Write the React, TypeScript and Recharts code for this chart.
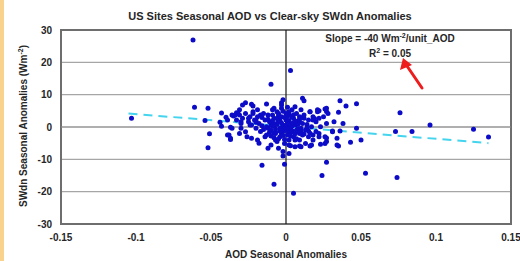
import React from 'react';
import { ScatterChart, Scatter, XAxis, YAxis, CartesianGrid, ReferenceLine, ReferenceArea } from 'recharts';

const xTicks = [-0.15, -0.1, -0.05, 0, 0.05, 0.1, 0.15];
const yTicks = [-30, -20, -10, 0, 10, 20, 30];

const trendAod = [-0.105, 0.135];
const trendSwdn = [4.2, -5.0];

// [AOD seasonal anomaly, SWdn seasonal anomaly (W m-2)]
const outerPoints: [number, number][] = [
  [-0.103, 2.7], [-0.062, 26.9], [-0.061, 6.1], [-0.052, 5.8], [-0.054, 2.0], [-0.051, -2.1],
  [-0.052, -6.4], [-0.044, 1.5], [-0.043, 0.2], [-0.043, 4.3], [-0.040, 3.0], [-0.037, -0.1],
  [-0.038, -2.5], [-0.037, -3.9], [-0.035, 3.4], [-0.033, 4.4],
  [0.003, 17.5], [-0.010, 13.2], [-0.016, -11.8], [-0.008, -17.7], [0.005, -20.5], [-0.002, -9.0],
  [-0.001, -11.5], [0.003, -5.8], [0.002, -8.2], [0.011, 8.9], [0.012, 8.1], [-0.027, 7.5],
  [-0.029, 6.8], [-0.022, 6.5], [-0.013, 7.1], [-0.003, 7.5],
  [0.036, 8.1], [0.040, 6.5], [0.047, 7.2], [0.035, 4.6], [0.026, 5.6], [0.027, 4.8], [0.022, 5.0],
  [0.038, 1.1], [0.047, -0.4], [0.031, -1.2], [0.036, -1.2], [0.018, -2.5], [0.027, -3.4],
  [0.050, -4.0], [0.043, -4.7], [0.035, -5.9], [0.034, -5.6], [0.023, -5.3], [0.016, -5.9],
  [0.009, -5.9], [0.027, -10.9], [0.024, -15.0], [0.053, -14.3], [0.074, -15.6], [0.076, 4.4],
  [0.073, -1.4], [0.084, -1.4], [0.096, 0.6], [0.125, -0.7], [0.135, -3.1],
];

const leftCluster: [number, number][] = [
  [-0.023, 7.0], [-0.031, 5.3], [-0.032, 4.2], [-0.036, 3.7], [-0.039, 2.2], [-0.030, 1.6],
  [-0.025, 2.7], [-0.022, 4.7], [-0.019, 5.3], [-0.017, 3.7], [-0.020, 2.2], [-0.024, 0.6],
  [-0.030, -0.4], [-0.036, -0.4], [-0.039, -2.5], [-0.037, -3.5], [-0.031, -2.0], [-0.027, -1.5],
  [-0.026, -3.0], [-0.023, -3.5], [-0.019, -4.0], [-0.018, -5.0], [-0.014, -3.0], [-0.012, -0.4],
  [-0.010, 0.6], [-0.009, 3.7], [-0.008, 5.8], [-0.006, 4.7], [-0.005, 2.2], [-0.007, -1.5],
  [-0.006, -4.5], [-0.005, -6.6], [-0.010, -5.6], [-0.012, -6.6], [-0.002, 0.1], [-0.003, 6.8],
];

const rightCluster: [number, number][] = [
  [0.006, 6.3], [0.002, 4.7], [0.016, 4.7], [0.021, 5.3], [0.027, 5.8], [0.028, 4.2], [0.022, 2.7],
  [0.018, 2.2], [0.012, 2.7], [0.009, 1.6], [0.032, 1.6], [0.027, 1.1], [0.004, -1.5], [0.009, -2.0],
  [0.015, -1.2], [0.022, -2.0], [0.026, -3.0], [0.027, -4.5], [0.031, -1.5], [0.034, -3.5],
  [0.002, -5.6], [0.010, -6.1], [0.017, -5.6], [-0.002, -7.6], [0.006, -4.0], [-0.002, 8.4],
];

const coreCluster: [number, number][] = [
  [-0.034, 3.7], [-0.033, 2.2], [-0.031, 3.7], [-0.030, 1.1], [-0.029, 2.7], [-0.027, 4.2],
  [-0.025, 1.6], [-0.024, 3.2], [-0.023, 0.6], [-0.022, 4.2], [-0.021, 2.2], [-0.020, -0.4],
  [-0.019, 3.2], [-0.018, 1.1], [-0.017, -1.4], [-0.015, 4.2], [-0.014, 2.2], [-0.013, 0.1],
  [-0.013, -2.5], [-0.012, 3.7], [-0.011, 1.6], [-0.010, -0.9], [-0.009, 5.3], [-0.008, 2.7],
  [-0.008, 0.6], [-0.007, -2.0], [-0.007, -4.0], [-0.005, 4.2], [-0.005, 1.6], [-0.004, -0.4],
  [-0.004, -3.0], [-0.003, 5.8], [-0.003, 3.2], [-0.002, 0.6], [-0.002, -1.4], [-0.001, -5.1],
  [0.000, 4.2], [0.000, 2.2], [0.001, 0.1], [0.001, -2.5], [0.002, -4.0], [0.002, 3.7],
  [0.003, 1.1], [0.003, -0.9], [0.004, 5.3], [0.005, 2.7], [0.005, -3.0], [0.006, 0.6],
  [0.006, -6.1], [0.007, 4.2], [0.007, -1.4], [0.008, 1.6], [0.009, -4.0], [0.009, 3.2],
  [0.010, -0.4], [0.010, 5.3], [0.011, -2.5], [0.011, 1.1], [0.012, 3.7], [0.013, -0.9],
  [0.013, -5.1], [0.015, 2.2], [0.015, -3.0], [0.016, 4.7], [0.017, 0.1], [0.018, 3.2],
  [0.018, -4.0], [0.020, -1.4], [0.020, 1.6], [0.021, 4.7], [0.022, -3.0], [0.023, 0.1],
  [0.025, 3.2], [0.026, -5.1],
  [-0.006, 0.8], [-0.004, 1.9], [-0.002, -0.8], [0.001, 1.4], [0.002, -1.8], [0.004, 0.3],
  [-0.001, 2.9], [0.003, -0.3], [-0.003, -2.2], [0.000, -1.1], [0.005, 1.3], [-0.007, -0.6],
  [0.006, -2.1], [-0.009, 1.9], [0.008, -0.5], [-0.011, -1.6], [0.009, 2.4], [-0.005, -3.6],
  [0.004, 3.1], [-0.002, 4.9], [0.001, 6.1], [-0.008, -3.3], [0.007, -3.6], [-0.016, 0.4],
  [0.014, 0.8], [-0.020, 1.5], [0.016, -1.9],
];

const denseCenter: [number, number][] = [
  [-0.001, 0.5], [0.001, -0.6], [-0.003, 1.2], [0.002, 2.0], [-0.004, -1.3], [0.004, -1.1],
  [-0.006, 2.6], [0.006, 1.9], [-0.002, -2.6], [0.003, -2.8], [-0.008, -1.9], [0.008, 0.9],
  [-0.009, 0.3], [0.010, -1.5], [-0.005, 3.5], [0.005, 3.8], [-0.001, -3.9], [0.001, 3.3],
  [-0.007, 1.0], [0.007, -0.9], [-0.012, 2.4], [0.012, -2.2], [-0.010, -2.8], [0.011, 2.9],
  [-0.003, -0.2], [0.002, 0.9], [-0.015, -0.8], [0.014, -0.3], [-0.016, 2.9], [0.019, 2.6],
];

const siteData = [...outerPoints, ...leftCluster, ...rightCluster, ...coreCluster, ...denseCenter].map(
  ([x, y]) => ({ x, y })
);

const FONT = '"Liberation Sans", Arial, sans-serif';
const TEXT = '#262626';

const Dot = (p: any) => <circle cx={p.cx} cy={p.cy} r={2.5} fill="#0c0cc8" />;

export default function App() {
  return (
    <div style={{ position: 'absolute', left: 0, top: 0, width: 520, height: 261, background: '#fff', overflow: 'hidden' }}>
      <div style={{ position: 'absolute', left: 0, top: 0, width: 4, height: 261, background: '#f9d28e' }} />
      <ScatterChart width={520} height={261} margin={{ top: 30, right: 9, left: 0, bottom: 0 }}>
        <CartesianGrid vertical={false} stroke="#a6a6a6" strokeWidth={1.2} />
        <XAxis
          type="number"
          dataKey="x"
          domain={[-0.15, 0.15]}
          ticks={xTicks}
          tickFormatter={(v: number) => String(v)}
          axisLine={false}
          tickLine={false}
          tickSize={0}
          tickMargin={10}
          height={37}
          tick={{ fontSize: 10, fontWeight: 'bold', fill: TEXT, fontFamily: FONT }}
          allowDataOverflow
        />
        <YAxis
          type="number"
          dataKey="y"
          domain={[-30, 30]}
          ticks={yTicks}
          axisLine={false}
          tickLine={false}
          tickSize={0}
          tickMargin={9}
          width={61}
          tick={{ fontSize: 10, fontWeight: 'bold', fill: TEXT, fontFamily: FONT }}
          allowDataOverflow
        />
        <ReferenceLine y={0} stroke="#8c8c8c" strokeWidth={1.2} />
        <ReferenceLine x={0} stroke="#1a1a1a" strokeWidth={1.2} />
        <ReferenceArea x1={-0.15} x2={0.15} y1={-30} y2={30} fill="none" fillOpacity={0} stroke="#6e6e6e" strokeWidth={2} />
        <Scatter data={siteData} shape={Dot} isAnimationActive={false} />
        <ReferenceLine
          segment={[{ x: trendAod[0], y: trendSwdn[0] }, { x: trendAod[1], y: trendSwdn[1] }]}
          stroke="#44d4ee"
          strokeWidth={2}
          strokeDasharray="9 6"
        />
      </ScatterChart>
      <svg width={520} height={261} style={{ position: 'absolute', left: 0, top: 0, pointerEvents: 'none' }}>
        <g fontFamily={FONT} fontWeight="bold" fill={TEXT}>
          <text x={270} y={20} fontSize={11} textAnchor="middle">US Sites Seasonal AOD vs Clear-sky SWdn Anomalies</text>
          <text x={390} y={41.5} fontSize={10} textAnchor="middle">
            Slope = -40 Wm<tspan fontSize={7} dy={-4}>-2</tspan><tspan dy={4}>/unit_AOD</tspan>
          </text>
          <text x={390} y={57} fontSize={10} textAnchor="middle">
            R<tspan fontSize={7} dy={-4}>2</tspan><tspan dy={4}> = 0.05</tspan>
          </text>
          <text x={286} y={258} fontSize={10} textAnchor="middle">AOD Seasonal Anomalies</text>
          <text x={27} y={126} fontSize={10} textAnchor="middle" transform="rotate(-90 27 126)">
            SWdn Seasonal Anomalies (Wm<tspan fontSize={7} dy={-4}>-2</tspan><tspan dy={4}>)</tspan>
          </text>
        </g>
        <line x1={422} y1={88} x2={407} y2={66} stroke="#ee1c1c" strokeWidth={3} strokeLinecap="round" />
        <polygon points="403,58 400,70 412,65" fill="#ee1c1c" />
      </svg>
    </div>
  );
}
